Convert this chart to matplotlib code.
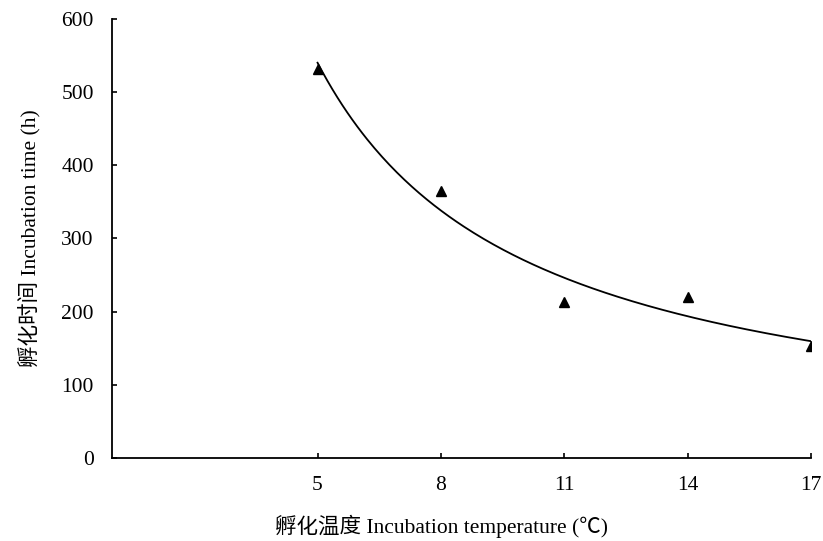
import numpy as np
import matplotlib
matplotlib.use('Agg')
import matplotlib.pyplot as plt

plt.rcParams['font.family'] = ['Liberation Serif', 'Noto Sans CJK SC', 'DejaVu Sans']

# 孵化温度 (℃) 与 孵化时间 (h)
temp = np.array([5, 8, 11, 14, 17])
hours = np.array([532, 365, 213, 220, 153])
xticks = [5, 8, 11, 14, 17]
yticks = [0, 100, 200, 300, 400, 500, 600]

# 幂函数拟合 y = a * x^b (最小二乘, 对数坐标)
b, lna = np.polyfit(np.log(temp), np.log(hours), 1)
xs = np.linspace(temp.min(), temp.max(), 200)
ys = np.exp(lna) * xs ** b

fig = plt.figure(figsize=(8.23, 5.41), dpi=100)
ax = fig.add_axes([0.136, 0.1534, 0.8494, 0.8115])

ax.plot(xs, ys, color='black', lw=1.3)
ax.plot(temp, hours, '^', color='black', markersize=7.5)

ax.set_xlim(0, 17)
ax.set_ylim(0, 600)
ax.set_xticks(xticks)
ax.set_yticks(yticks)
ax.spines['top'].set_visible(False)
ax.spines['right'].set_visible(False)
ax.spines['left'].set_linewidth(1.3)
ax.spines['bottom'].set_linewidth(1.3)
ax.tick_params(direction='in', length=3.5, width=1.2, labelsize=15.5, pad=13)

ax.set_xlabel('孵化温度 Incubation temperature (℃)', fontsize=15.5, labelpad=13)
ax.xaxis.set_label_coords(0.472, -0.13)
ax.set_ylabel('孵化时间 Incubation time (h)', fontsize=15.5, labelpad=14)

fig.savefig('out.png', dpi=100)
